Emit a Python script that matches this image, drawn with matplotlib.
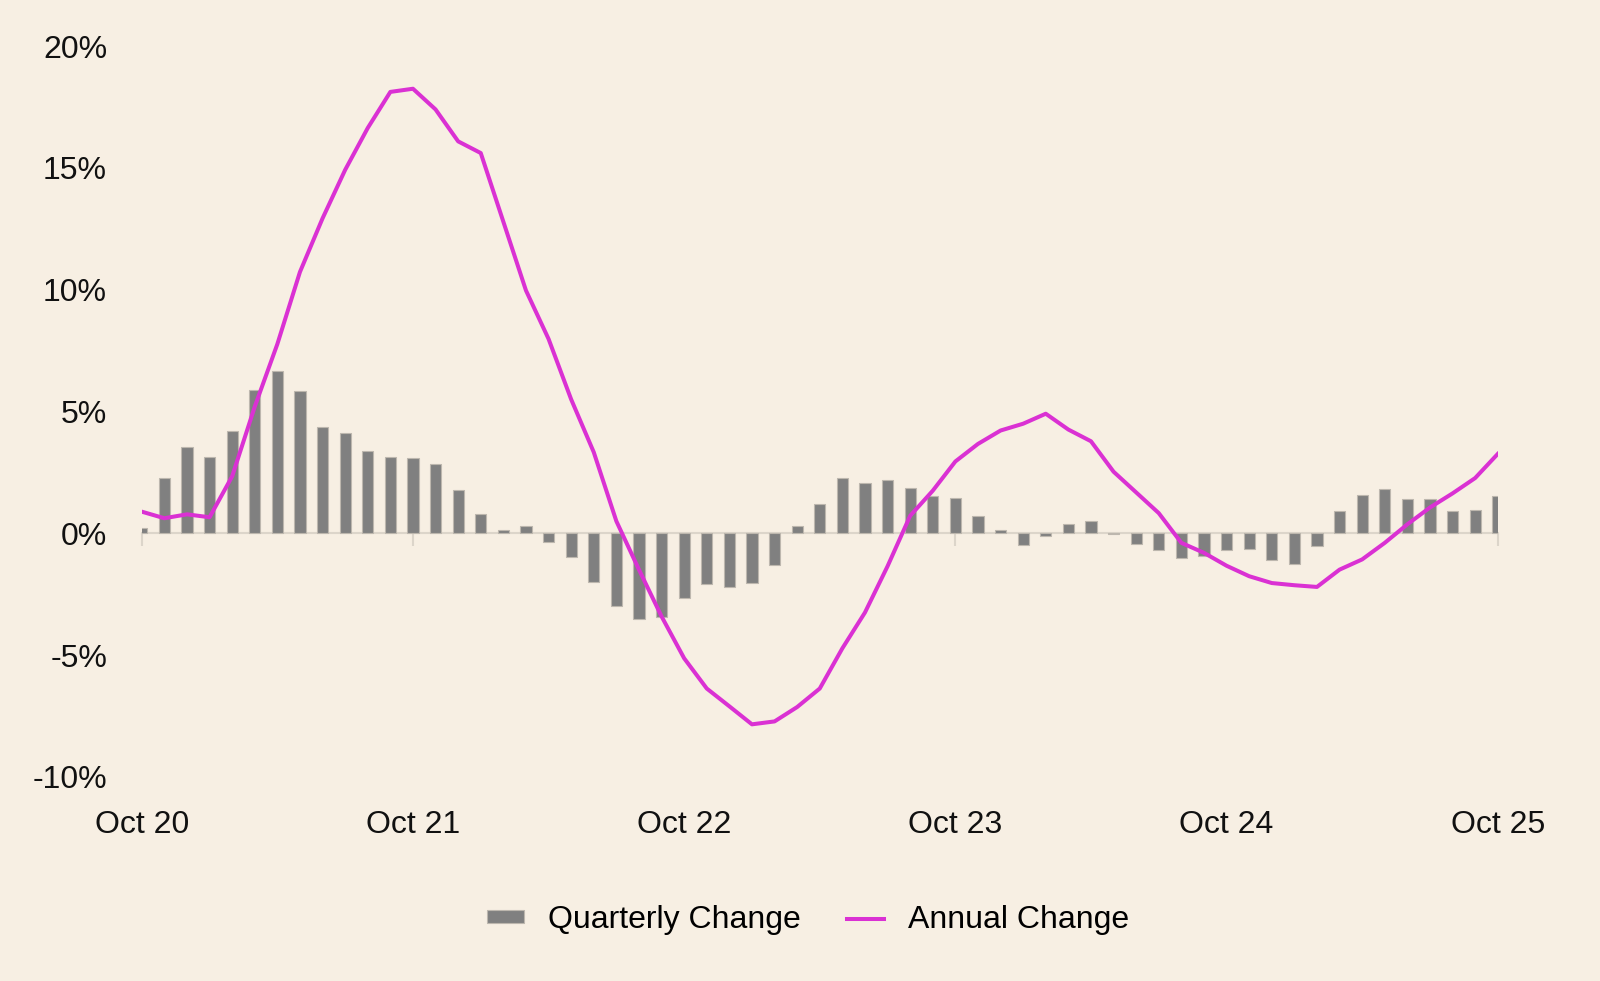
import numpy as np
import pandas as pd
import matplotlib
matplotlib.use("Agg")
import matplotlib.pyplot as plt

# -------------------------
# DATA (% change)
# -------------------------
months = pd.date_range("2020-10-01", "2025-10-01", freq="MS")

quarterly_change = [
    0.23, 2.26, 3.53, 3.12, 4.22, 5.87, 6.68, 5.85, 4.35, 4.11,
    3.36, 3.12, 3.08, 2.85, 1.76, 0.81, 0.12, 0.30, -0.37, -0.99,
    -1.98, -2.97, -3.50, -3.45, -2.67, -2.10, -2.19, -2.05, -1.28, 0.32,
    1.21, 2.26, 2.06, 2.20, 1.86, 1.53, 1.46, 0.73, 0.15, -0.48,
    -0.10, 0.37, 0.50, -0.02, -0.43, -0.69, -1.00, -0.94, -0.70, -0.66,
    -1.09, -1.27, -0.52, 0.92, 1.58, 1.83, 1.42, 1.39, 0.91, 0.96,
    1.54,
]

annual_change = [
    0.89, 0.62, 0.78, 0.66, 2.34, 5.20, 7.77, 10.73, 12.93, 14.92,
    16.64, 18.12, 18.25, 17.40, 16.09, 15.61, 12.79, 9.97, 7.98, 5.50,
    3.33, 0.50, -1.49, -3.41, -5.13, -6.37, -7.10, -7.84, -7.72, -7.13,
    -6.37, -4.72, -3.25, -1.35, 0.72, 1.75, 2.95, 3.67, 4.22, 4.50,
    4.91, 4.26, 3.78, 2.53, 1.68, 0.83, -0.39, -0.80, -1.33, -1.76,
    -2.04, -2.13, -2.20, -1.49, -1.07, -0.39, 0.37, 1.06, 1.64, 2.27,
    3.26,
]

y_ticks = [-10, -5, 0, 5, 10, 15, 20]

# -------------------------
# STYLE
# -------------------------
bg = "#F7EFE3"
bar_color = "#808080"
line_color = "#DA31D3"
axis_color = "#DCD5CA"

plt.rcParams["font.family"] = ["Liberation Sans", "DejaVu Sans"]
plt.rcParams["font.size"] = 23

fig = plt.figure(figsize=(16, 9.81), dpi=100, facecolor=bg)
ax = fig.add_axes([0.0886, 0.208, 0.8475, 0.745])
ax.set_facecolor(bg)

x = np.arange(len(months))

bars = ax.bar(x, quarterly_change, width=0.5, color=bar_color,
              edgecolor="#BDB7AE", linewidth=0.8, label="Quarterly Change", zorder=2)
line, = ax.plot(x, annual_change, color=line_color, linewidth=2.9,
                label="Annual Change", zorder=3)

ax.set_xlim(0, len(months) - 1)
ax.set_ylim(-10, 20)

# y axis
ax.set_yticks(y_ticks)
ax.set_yticklabels([f"{v}%" for v in y_ticks])
ax.tick_params(axis="y", length=0, pad=25, labelcolor="#111111")

# zero line with year ticks
for s in ["top", "right", "left"]:
    ax.spines[s].set_visible(False)
ax.spines["bottom"].set_position(("data", 0))
ax.spines["bottom"].set_color(axis_color)
ax.spines["bottom"].set_linewidth(1.5)
ax.spines["bottom"].set_zorder(1)
year_pos = x[::12]
ax.set_xticks(year_pos)
ax.tick_params(axis="x", direction="out", length=9, width=1.5,
               color=axis_color, labelbottom=False)

# tick labels along the bottom
sec = ax.secondary_xaxis(0.0)
sec.set_xticks(year_pos)
sec.set_xticklabels(months[::12].strftime("%b %y"))
sec.tick_params(axis="x", length=0, pad=24, labelcolor="#111111")
sec.spines["bottom"].set_visible(False)

fig.legend(handles=[bars, line], loc="center", bbox_to_anchor=(0.505, 0.062),
           ncol=2, frameon=False, handlelength=1.15, handleheight=0.25,
           handletextpad=0.75, columnspacing=1.45, fontsize=23)

fig.savefig("out.png", dpi=100, facecolor=bg)
